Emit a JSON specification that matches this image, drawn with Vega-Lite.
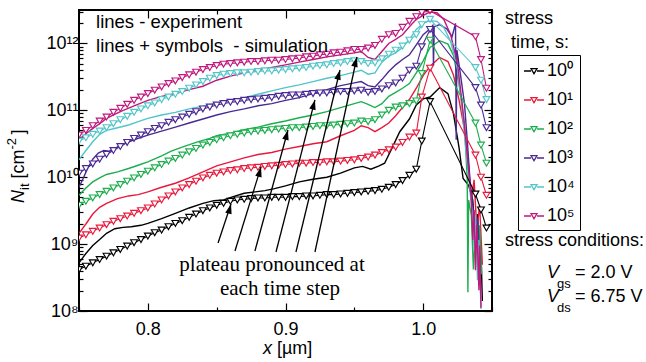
{
"$schema": "https://vega.github.io/schema/vega-lite/v6.json",
"width": 413, "height": 301,
"autosize": {"type": "none"},
"padding": {"left": 79, "top": 10, "right": 154, "bottom": 51},
"background": "white",
"datasets": {
"sim": [
{"s":"10⁰","x":0.75,"y":4.17e8},{"s":"10⁰","x":0.755,"y":4.68e8},{"s":"10⁰","x":0.76,"y":5.25e8},{"s":"10⁰","x":0.765,"y":5.89e8},{"s":"10⁰","x":0.77,"y":6.61e8},{"s":"10⁰","x":0.775,"y":7.41e8},{"s":"10⁰","x":0.78,"y":8.32e8},{"s":"10⁰","x":0.785,"y":9.33e8},{"s":"10⁰","x":0.79,"y":1.05e9},{"s":"10⁰","x":0.795,"y":1.17e9},
{"s":"10⁰","x":0.8,"y":1.32e9},{"s":"10⁰","x":0.805,"y":1.48e9},{"s":"10⁰","x":0.81,"y":1.62e9},{"s":"10⁰","x":0.815,"y":1.82e9},{"s":"10⁰","x":0.82,"y":2.04e9},{"s":"10⁰","x":0.825,"y":2.24e9},{"s":"10⁰","x":0.83,"y":2.51e9},{"s":"10⁰","x":0.835,"y":2.82e9},{"s":"10⁰","x":0.84,"y":3.16e9},{"s":"10⁰","x":0.845,"y":3.47e9},
{"s":"10⁰","x":0.85,"y":3.8e9},{"s":"10⁰","x":0.855,"y":4.07e9},{"s":"10⁰","x":0.86,"y":4.37e9},{"s":"10⁰","x":0.865,"y":4.57e9},{"s":"10⁰","x":0.87,"y":4.68e9},{"s":"10⁰","x":0.875,"y":4.79e9},{"s":"10⁰","x":0.88,"y":4.9e9},{"s":"10⁰","x":0.885,"y":4.9e9},{"s":"10⁰","x":0.89,"y":5.01e9},{"s":"10⁰","x":0.895,"y":5.01e9},
{"s":"10⁰","x":0.9,"y":5.01e9},{"s":"10⁰","x":0.905,"y":5.13e9},{"s":"10⁰","x":0.91,"y":5.13e9},{"s":"10⁰","x":0.915,"y":5.25e9},{"s":"10⁰","x":0.92,"y":5.25e9},{"s":"10⁰","x":0.925,"y":5.37e9},{"s":"10⁰","x":0.93,"y":5.5e9},{"s":"10⁰","x":0.935,"y":5.5e9},{"s":"10⁰","x":0.94,"y":5.62e9},{"s":"10⁰","x":0.945,"y":5.75e9},
{"s":"10⁰","x":0.95,"y":5.89e9},{"s":"10⁰","x":0.955,"y":6.03e9},{"s":"10⁰","x":0.96,"y":6.17e9},{"s":"10⁰","x":0.965,"y":6.31e9},{"s":"10⁰","x":0.97,"y":6.61e9},{"s":"10⁰","x":0.975,"y":7.08e9},{"s":"10⁰","x":0.98,"y":7.76e9},{"s":"10⁰","x":0.985,"y":8.91e9},{"s":"10⁰","x":0.99,"y":1.07e10},{"s":"10⁰","x":0.995,"y":1.32e10},
{"s":"10⁰","x":0.999,"y":3.47e10},{"s":"10⁰","x":1.005,"y":1.35e11},{"s":"10⁰","x":1.038,"y":5.6e9},{"s":"10⁰","x":1.042,"y":3.24e9},{"s":"10⁰","x":1.046,"y":1.74e9},

{"s":"10¹","x":0.75,"y":1.23e9},{"s":"10¹","x":0.755,"y":1.38e9},{"s":"10¹","x":0.76,"y":1.55e9},{"s":"10¹","x":0.765,"y":1.74e9},{"s":"10¹","x":0.77,"y":1.95e9},{"s":"10¹","x":0.775,"y":2.19e9},{"s":"10¹","x":0.78,"y":2.4e9},{"s":"10¹","x":0.785,"y":2.63e9},{"s":"10¹","x":0.79,"y":2.88e9},{"s":"10¹","x":0.795,"y":3.16e9},
{"s":"10¹","x":0.8,"y":3.47e9},{"s":"10¹","x":0.805,"y":3.98e9},{"s":"10¹","x":0.81,"y":4.57e9},{"s":"10¹","x":0.815,"y":5.25e9},{"s":"10¹","x":0.82,"y":6.03e9},{"s":"10¹","x":0.825,"y":6.92e9},{"s":"10¹","x":0.83,"y":7.76e9},{"s":"10¹","x":0.835,"y":8.71e9},{"s":"10¹","x":0.84,"y":9.77e9},{"s":"10¹","x":0.845,"y":1.07e10},
{"s":"10¹","x":0.85,"y":1.15e10},{"s":"10¹","x":0.855,"y":1.2e10},{"s":"10¹","x":0.86,"y":1.26e10},{"s":"10¹","x":0.865,"y":1.29e10},{"s":"10¹","x":0.87,"y":1.35e10},{"s":"10¹","x":0.875,"y":1.38e10},{"s":"10¹","x":0.88,"y":1.41e10},{"s":"10¹","x":0.885,"y":1.45e10},{"s":"10¹","x":0.89,"y":1.48e10},{"s":"10¹","x":0.895,"y":1.51e10},
{"s":"10¹","x":0.9,"y":1.55e10},{"s":"10¹","x":0.905,"y":1.58e10},{"s":"10¹","x":0.91,"y":1.62e10},{"s":"10¹","x":0.915,"y":1.62e10},{"s":"10¹","x":0.92,"y":1.66e10},{"s":"10¹","x":0.925,"y":1.66e10},{"s":"10¹","x":0.93,"y":1.7e10},{"s":"10¹","x":0.935,"y":1.7e10},{"s":"10¹","x":0.94,"y":1.74e10},{"s":"10¹","x":0.945,"y":1.78e10},
{"s":"10¹","x":0.95,"y":1.82e10},{"s":"10¹","x":0.955,"y":1.91e10},{"s":"10¹","x":0.96,"y":2.0e10},{"s":"10¹","x":0.965,"y":2.14e10},{"s":"10¹","x":0.97,"y":2.34e10},{"s":"10¹","x":0.975,"y":2.57e10},{"s":"10¹","x":0.98,"y":2.82e10},{"s":"10¹","x":0.985,"y":3.31e10},{"s":"10¹","x":0.99,"y":3.98e10},{"s":"10¹","x":0.995,"y":4.57e10},
{"s":"10¹","x":0.999,"y":1.58e11},{"s":"10¹","x":1.005,"y":4.27e11},{"s":"10¹","x":1.038,"y":2.14e10},{"s":"10¹","x":1.042,"y":1.0e10},{"s":"10¹","x":1.046,"y":5.37e9},

{"s":"10²","x":0.75,"y":3.8e9},{"s":"10²","x":0.755,"y":4.37e9},{"s":"10²","x":0.76,"y":4.9e9},{"s":"10²","x":0.765,"y":5.5e9},{"s":"10²","x":0.77,"y":6.17e9},{"s":"10²","x":0.775,"y":6.92e9},{"s":"10²","x":0.78,"y":7.76e9},{"s":"10²","x":0.785,"y":8.71e9},{"s":"10²","x":0.79,"y":9.77e9},{"s":"10²","x":0.795,"y":1.1e10},
{"s":"10²","x":0.8,"y":1.23e10},{"s":"10²","x":0.805,"y":1.38e10},{"s":"10²","x":0.81,"y":1.55e10},{"s":"10²","x":0.815,"y":1.74e10},{"s":"10²","x":0.82,"y":1.91e10},{"s":"10²","x":0.825,"y":2.14e10},{"s":"10²","x":0.83,"y":2.4e10},{"s":"10²","x":0.835,"y":2.69e10},{"s":"10²","x":0.84,"y":3.02e10},{"s":"10²","x":0.845,"y":3.31e10},
{"s":"10²","x":0.85,"y":3.63e10},{"s":"10²","x":0.855,"y":3.89e10},{"s":"10²","x":0.86,"y":4.17e10},{"s":"10²","x":0.865,"y":4.37e10},{"s":"10²","x":0.87,"y":4.57e10},{"s":"10²","x":0.875,"y":4.79e10},{"s":"10²","x":0.88,"y":4.9e10},{"s":"10²","x":0.885,"y":5.01e10},{"s":"10²","x":0.89,"y":5.13e10},{"s":"10²","x":0.895,"y":5.25e10},
{"s":"10²","x":0.9,"y":5.37e10},{"s":"10²","x":0.905,"y":5.5e10},{"s":"10²","x":0.91,"y":5.5e10},{"s":"10²","x":0.915,"y":5.62e10},{"s":"10²","x":0.92,"y":5.75e10},{"s":"10²","x":0.925,"y":5.89e10},{"s":"10²","x":0.93,"y":5.89e10},{"s":"10²","x":0.935,"y":6.03e10},{"s":"10²","x":0.94,"y":6.17e10},{"s":"10²","x":0.945,"y":6.31e10},
{"s":"10²","x":0.95,"y":6.46e10},{"s":"10²","x":0.955,"y":6.92e10},{"s":"10²","x":0.96,"y":6.76e10},{"s":"10²","x":0.965,"y":7.24e10},{"s":"10²","x":0.97,"y":8.51e10},{"s":"10²","x":0.975,"y":1.0e11},{"s":"10²","x":0.98,"y":1.12e11},{"s":"10²","x":0.985,"y":1.17e11},{"s":"10²","x":0.99,"y":1.26e11},{"s":"10²","x":0.995,"y":1.38e11},
{"s":"10²","x":0.999,"y":3.55e11},{"s":"10²","x":1.005,"y":1.12e12},{"s":"10²","x":1.038,"y":6.46e10},{"s":"10²","x":1.042,"y":3.02e10},{"s":"10²","x":1.046,"y":1.62e10},

{"s":"10³","x":0.75,"y":1.15e10},{"s":"10³","x":0.755,"y":1.35e10},{"s":"10³","x":0.76,"y":1.58e10},{"s":"10³","x":0.765,"y":1.86e10},{"s":"10³","x":0.77,"y":2.19e10},{"s":"10³","x":0.775,"y":2.51e10},{"s":"10³","x":0.78,"y":2.88e10},{"s":"10³","x":0.785,"y":3.31e10},{"s":"10³","x":0.79,"y":3.8e10},{"s":"10³","x":0.795,"y":4.27e10},
{"s":"10³","x":0.8,"y":4.79e10},{"s":"10³","x":0.805,"y":5.37e10},{"s":"10³","x":0.81,"y":5.89e10},{"s":"10³","x":0.815,"y":6.61e10},{"s":"10³","x":0.82,"y":7.24e10},{"s":"10³","x":0.825,"y":7.94e10},{"s":"10³","x":0.83,"y":8.71e10},{"s":"10³","x":0.835,"y":9.55e10},{"s":"10³","x":0.84,"y":1.05e11},{"s":"10³","x":0.845,"y":1.12e11},
{"s":"10³","x":0.85,"y":1.2e11},{"s":"10³","x":0.855,"y":1.26e11},{"s":"10³","x":0.86,"y":1.32e11},{"s":"10³","x":0.865,"y":1.35e11},{"s":"10³","x":0.87,"y":1.41e11},{"s":"10³","x":0.875,"y":1.45e11},{"s":"10³","x":0.88,"y":1.48e11},{"s":"10³","x":0.885,"y":1.51e11},{"s":"10³","x":0.89,"y":1.55e11},{"s":"10³","x":0.895,"y":1.62e11},
{"s":"10³","x":0.9,"y":1.66e11},{"s":"10³","x":0.905,"y":1.7e11},{"s":"10³","x":0.91,"y":1.7e11},{"s":"10³","x":0.915,"y":1.74e11},{"s":"10³","x":0.92,"y":1.78e11},{"s":"10³","x":0.925,"y":1.82e11},{"s":"10³","x":0.93,"y":1.82e11},{"s":"10³","x":0.935,"y":1.86e11},{"s":"10³","x":0.94,"y":1.91e11},{"s":"10³","x":0.945,"y":1.91e11},
{"s":"10³","x":0.95,"y":1.95e11},{"s":"10³","x":0.955,"y":2.0e11},{"s":"10³","x":0.96,"y":1.86e11},{"s":"10³","x":0.965,"y":1.91e11},{"s":"10³","x":0.97,"y":2.09e11},{"s":"10³","x":0.975,"y":2.34e11},{"s":"10³","x":0.98,"y":2.57e11},{"s":"10³","x":0.985,"y":3.02e11},{"s":"10³","x":0.99,"y":3.98e11},{"s":"10³","x":0.995,"y":4.57e11},
{"s":"10³","x":0.999,"y":8.91e11},{"s":"10³","x":1.005,"y":1.62e12},{"s":"10³","x":1.038,"y":2.19e11},{"s":"10³","x":1.042,"y":1.2e11},{"s":"10³","x":1.046,"y":5.5e10},

{"s":"10⁴","x":0.75,"y":3.47e10},{"s":"10⁴","x":0.755,"y":3.89e10},{"s":"10⁴","x":0.76,"y":4.37e10},{"s":"10⁴","x":0.765,"y":4.9e10},{"s":"10⁴","x":0.77,"y":5.5e10},{"s":"10⁴","x":0.775,"y":6.31e10},{"s":"10⁴","x":0.78,"y":7.24e10},{"s":"10⁴","x":0.785,"y":8.13e10},{"s":"10⁴","x":0.79,"y":9.33e10},{"s":"10⁴","x":0.795,"y":1.05e11},
{"s":"10⁴","x":0.8,"y":1.17e11},{"s":"10⁴","x":0.805,"y":1.29e11},{"s":"10⁴","x":0.81,"y":1.45e11},{"s":"10⁴","x":0.815,"y":1.58e11},{"s":"10⁴","x":0.82,"y":1.74e11},{"s":"10⁴","x":0.825,"y":1.91e11},{"s":"10⁴","x":0.83,"y":2.14e11},{"s":"10⁴","x":0.835,"y":2.4e11},{"s":"10⁴","x":0.84,"y":2.69e11},{"s":"10⁴","x":0.845,"y":3.02e11},
{"s":"10⁴","x":0.85,"y":3.31e11},{"s":"10⁴","x":0.855,"y":3.47e11},{"s":"10⁴","x":0.86,"y":3.55e11},{"s":"10⁴","x":0.865,"y":3.63e11},{"s":"10⁴","x":0.87,"y":3.63e11},{"s":"10⁴","x":0.875,"y":3.72e11},{"s":"10⁴","x":0.88,"y":3.8e11},{"s":"10⁴","x":0.885,"y":3.89e11},{"s":"10⁴","x":0.89,"y":3.89e11},{"s":"10⁴","x":0.895,"y":3.98e11},
{"s":"10⁴","x":0.9,"y":4.07e11},{"s":"10⁴","x":0.905,"y":4.17e11},{"s":"10⁴","x":0.91,"y":4.27e11},{"s":"10⁴","x":0.915,"y":4.37e11},{"s":"10⁴","x":0.92,"y":4.57e11},{"s":"10⁴","x":0.925,"y":4.68e11},{"s":"10⁴","x":0.93,"y":4.79e11},{"s":"10⁴","x":0.935,"y":5.01e11},{"s":"10⁴","x":0.94,"y":5.13e11},{"s":"10⁴","x":0.945,"y":5.37e11},
{"s":"10⁴","x":0.95,"y":5.5e11},{"s":"10⁴","x":0.955,"y":5.37e11},{"s":"10⁴","x":0.96,"y":5.01e11},{"s":"10⁴","x":0.965,"y":5.13e11},{"s":"10⁴","x":0.97,"y":5.89e11},{"s":"10⁴","x":0.975,"y":6.92e11},{"s":"10⁴","x":0.98,"y":7.94e11},{"s":"10⁴","x":0.985,"y":9.12e11},{"s":"10⁴","x":0.99,"y":1.12e12},{"s":"10⁴","x":0.995,"y":1.35e12},
{"s":"10⁴","x":0.999,"y":1.91e12},{"s":"10⁴","x":1.005,"y":2.29e12},{"s":"10⁴","x":1.038,"y":4.37e11},{"s":"10⁴","x":1.042,"y":2.82e11},{"s":"10⁴","x":1.046,"y":1.45e11},

{"s":"10⁵","x":0.75,"y":4.27e10},{"s":"10⁵","x":0.755,"y":5.01e10},{"s":"10⁵","x":0.76,"y":5.89e10},{"s":"10⁵","x":0.765,"y":6.92e10},{"s":"10⁵","x":0.77,"y":7.94e10},{"s":"10⁵","x":0.775,"y":9.33e10},{"s":"10⁵","x":0.78,"y":1.07e11},{"s":"10⁵","x":0.785,"y":1.23e11},{"s":"10⁵","x":0.79,"y":1.41e11},{"s":"10⁵","x":0.795,"y":1.58e11},
{"s":"10⁵","x":0.8,"y":1.78e11},{"s":"10⁵","x":0.805,"y":2.0e11},{"s":"10⁵","x":0.81,"y":2.24e11},{"s":"10⁵","x":0.815,"y":2.51e11},{"s":"10⁵","x":0.82,"y":2.75e11},{"s":"10⁵","x":0.825,"y":3.09e11},{"s":"10⁵","x":0.83,"y":3.39e11},{"s":"10⁵","x":0.835,"y":3.72e11},{"s":"10⁵","x":0.84,"y":4.07e11},{"s":"10⁵","x":0.845,"y":4.37e11},
{"s":"10⁵","x":0.85,"y":4.68e11},{"s":"10⁵","x":0.855,"y":4.9e11},{"s":"10⁵","x":0.86,"y":5.01e11},{"s":"10⁵","x":0.865,"y":5.13e11},{"s":"10⁵","x":0.87,"y":5.25e11},{"s":"10⁵","x":0.875,"y":5.37e11},{"s":"10⁵","x":0.88,"y":5.37e11},{"s":"10⁵","x":0.885,"y":5.5e11},{"s":"10⁵","x":0.89,"y":5.62e11},{"s":"10⁵","x":0.895,"y":5.62e11},
{"s":"10⁵","x":0.9,"y":5.75e11},{"s":"10⁵","x":0.905,"y":5.89e11},{"s":"10⁵","x":0.91,"y":6.03e11},{"s":"10⁵","x":0.915,"y":6.31e11},{"s":"10⁵","x":0.92,"y":6.46e11},{"s":"10⁵","x":0.925,"y":6.76e11},{"s":"10⁵","x":0.93,"y":6.92e11},{"s":"10⁵","x":0.935,"y":7.24e11},{"s":"10⁵","x":0.94,"y":7.41e11},{"s":"10⁵","x":0.945,"y":7.76e11},
{"s":"10⁵","x":0.95,"y":8.13e11},{"s":"10⁵","x":0.955,"y":8.13e11},{"s":"10⁵","x":0.96,"y":8.51e11},{"s":"10⁵","x":0.965,"y":9.33e11},{"s":"10⁵","x":0.97,"y":1.15e12},{"s":"10⁵","x":0.975,"y":1.35e12},{"s":"10⁵","x":0.98,"y":1.41e12},{"s":"10⁵","x":0.985,"y":1.74e12},{"s":"10⁵","x":0.99,"y":2.14e12},{"s":"10⁵","x":0.995,"y":2.51e12},
{"s":"10⁵","x":0.999,"y":2.88e12},{"s":"10⁵","x":1.005,"y":3.09e12},{"s":"10⁵","x":1.038,"y":1.26e12},{"s":"10⁵","x":1.042,"y":5.75e11},{"s":"10⁵","x":1.046,"y":2.14e11}
],
"exp": [
{"s":"10⁰","x":0.75,"y":5.25e8},{"s":"10⁰","x":0.755,"y":7.24e8},{"s":"10⁰","x":0.76,"y":9.55e8},{"s":"10⁰","x":0.765,"y":1.17e9},{"s":"10⁰","x":0.77,"y":1.45e9},{"s":"10⁰","x":0.776,"y":1.7e9},{"s":"10⁰","x":0.782,"y":1.78e9},{"s":"10⁰","x":0.788,"y":1.82e9},{"s":"10⁰","x":0.795,"y":1.91e9},{"s":"10⁰","x":0.8,"y":2.04e9},
{"s":"10⁰","x":0.81,"y":2.4e9},{"s":"10⁰","x":0.82,"y":2.88e9},{"s":"10⁰","x":0.83,"y":3.47e9},{"s":"10⁰","x":0.84,"y":4.07e9},{"s":"10⁰","x":0.848,"y":4.47e9},{"s":"10⁰","x":0.855,"y":4.57e9},{"s":"10⁰","x":0.862,"y":5.13e9},{"s":"10⁰","x":0.87,"y":5.75e9},{"s":"10⁰","x":0.878,"y":6.03e9},{"s":"10⁰","x":0.885,"y":6.31e9},
{"s":"10⁰","x":0.892,"y":6.76e9},{"s":"10⁰","x":0.9,"y":7.41e9},{"s":"10⁰","x":0.91,"y":8.51e9},{"s":"10⁰","x":0.92,"y":9.33e9},{"s":"10⁰","x":0.93,"y":1.0e10},{"s":"10⁰","x":0.94,"y":1.15e10},{"s":"10⁰","x":0.95,"y":1.38e10},{"s":"10⁰","x":0.956,"y":1.45e10},{"s":"10⁰","x":0.962,"y":1.32e10},{"s":"10⁰","x":0.968,"y":1.48e10},
{"s":"10⁰","x":0.972,"y":1.62e10},{"s":"10⁰","x":0.977,"y":2.63e10},{"s":"10⁰","x":0.983,"y":4.79e10},{"s":"10⁰","x":0.99,"y":7.41e10},{"s":"10⁰","x":0.995,"y":1.2e11},{"s":"10⁰","x":1.0,"y":1.48e11},{"s":"10⁰","x":1.005,"y":1.58e11},{"s":"10⁰","x":1.012,"y":2.19e11},{"s":"10⁰","x":1.018,"y":1.78e11},{"s":"10⁰","x":1.022,"y":8.91e10},
{"s":"10⁰","x":1.026,"y":2.82e10},{"s":"10⁰","x":1.029,"y":9.55e9},{"s":"10⁰","x":1.033,"y":7.59e9},{"s":"10⁰","x":1.036,"y":4.57e9},{"s":"10⁰","x":1.038,"y":1.26e9},{"s":"10⁰","x":1.0395,"y":2.82e9},{"s":"10⁰","x":1.041,"y":2.51e8},{"s":"10⁰","x":1.042,"y":7.94e8},{"s":"10⁰","x":1.043,"y":1.41e8},

{"s":"10¹","x":0.75,"y":1.45e9},{"s":"10¹","x":0.755,"y":2.0e9},{"s":"10¹","x":0.76,"y":2.82e9},{"s":"10¹","x":0.765,"y":3.55e9},{"s":"10¹","x":0.77,"y":4.07e9},{"s":"10¹","x":0.778,"y":4.79e9},{"s":"10¹","x":0.786,"y":5.25e9},{"s":"10¹","x":0.793,"y":5.5e9},{"s":"10¹","x":0.8,"y":6.03e9},{"s":"10¹","x":0.81,"y":7.08e9},
{"s":"10¹","x":0.82,"y":8.13e9},{"s":"10¹","x":0.83,"y":9.77e9},{"s":"10¹","x":0.84,"y":1.2e10},{"s":"10¹","x":0.85,"y":1.48e10},{"s":"10¹","x":0.86,"y":1.7e10},{"s":"10¹","x":0.87,"y":1.95e10},{"s":"10¹","x":0.88,"y":2.19e10},{"s":"10¹","x":0.89,"y":2.34e10},{"s":"10¹","x":0.9,"y":2.63e10},{"s":"10¹","x":0.91,"y":2.88e10},
{"s":"10¹","x":0.92,"y":3.16e10},{"s":"10¹","x":0.93,"y":3.39e10},{"s":"10¹","x":0.94,"y":4.17e10},{"s":"10¹","x":0.95,"y":5.01e10},{"s":"10¹","x":0.955,"y":5.89e10},{"s":"10¹","x":0.96,"y":5.5e10},{"s":"10¹","x":0.965,"y":4.79e10},{"s":"10¹","x":0.97,"y":5.5e10},{"s":"10¹","x":0.975,"y":6.46e10},{"s":"10¹","x":0.98,"y":8.32e10},
{"s":"10¹","x":0.985,"y":1.1e11},{"s":"10¹","x":0.99,"y":1.45e11},{"s":"10¹","x":0.995,"y":2.14e11},{"s":"10¹","x":1.0,"y":3.31e11},{"s":"10¹","x":1.005,"y":4.57e11},{"s":"10¹","x":1.012,"y":6.17e11},{"s":"10¹","x":1.018,"y":5.37e11},{"s":"10¹","x":1.022,"y":3.39e11},{"s":"10¹","x":1.026,"y":1.45e11},{"s":"10¹","x":1.03,"y":5.13e10},
{"s":"10¹","x":1.033,"y":1.51e10},{"s":"10¹","x":1.035,"y":4.57e9},{"s":"10¹","x":1.037,"y":9.12e9},{"s":"10¹","x":1.039,"y":1.62e9},{"s":"10¹","x":1.041,"y":3.8e9},{"s":"10¹","x":1.043,"y":4.9e8},

{"s":"10²","x":0.75,"y":5.37e9},{"s":"10²","x":0.755,"y":6.92e9},{"s":"10²","x":0.76,"y":8.51e9},{"s":"10²","x":0.765,"y":9.77e9},{"s":"10²","x":0.77,"y":1.1e10},{"s":"10²","x":0.778,"y":1.2e10},{"s":"10²","x":0.786,"y":1.35e10},{"s":"10²","x":0.793,"y":1.51e10},{"s":"10²","x":0.8,"y":1.7e10},{"s":"10²","x":0.81,"y":2.09e10},
{"s":"10²","x":0.817,"y":2.45e10},{"s":"10²","x":0.825,"y":2.82e10},{"s":"10²","x":0.835,"y":3.31e10},{"s":"10²","x":0.845,"y":3.8e10},{"s":"10²","x":0.85,"y":4.17e10},{"s":"10²","x":0.86,"y":4.57e10},{"s":"10²","x":0.87,"y":5.13e10},{"s":"10²","x":0.88,"y":5.62e10},{"s":"10²","x":0.89,"y":6.31e10},{"s":"10²","x":0.9,"y":6.92e10},
{"s":"10²","x":0.91,"y":7.76e10},{"s":"10²","x":0.92,"y":8.51e10},{"s":"10²","x":0.93,"y":9.55e10},{"s":"10²","x":0.94,"y":1.1e11},{"s":"10²","x":0.95,"y":1.26e11},{"s":"10²","x":0.955,"y":1.35e11},{"s":"10²","x":0.96,"y":1.23e11},{"s":"10²","x":0.965,"y":1.1e11},{"s":"10²","x":0.97,"y":1.26e11},{"s":"10²","x":0.975,"y":1.62e11},
{"s":"10²","x":0.98,"y":1.86e11},{"s":"10²","x":0.985,"y":2.14e11},{"s":"10²","x":0.99,"y":2.51e11},{"s":"10²","x":0.995,"y":3.63e11},{"s":"10²","x":1.0,"y":5.5e11},{"s":"10²","x":1.005,"y":8.71e11},{"s":"10²","x":1.012,"y":1.1e12},{"s":"10²","x":1.018,"y":9.77e11},{"s":"10²","x":1.022,"y":6.61e11},{"s":"10²","x":1.026,"y":2.51e11},
{"s":"10²","x":1.03,"y":6.31e10},{"s":"10²","x":1.032,"y":9.55e9},{"s":"10²","x":1.0325,"y":1.91e8},{"s":"10²","x":1.033,"y":4.57e9},{"s":"10²","x":1.035,"y":2.69e9},{"s":"10²","x":1.0365,"y":4.17e8},{"s":"10²","x":1.038,"y":1.58e9},{"s":"10²","x":1.0395,"y":7.08e8},{"s":"10²","x":1.041,"y":1.91e9},{"s":"10²","x":1.0425,"y":3.55e8},

{"s":"10³","x":0.75,"y":7.08e9},{"s":"10³","x":0.753,"y":9.55e9},{"s":"10³","x":0.756,"y":1.32e10},{"s":"10³","x":0.76,"y":1.86e10},{"s":"10³","x":0.764,"y":2.29e10},{"s":"10³","x":0.768,"y":2.51e10},{"s":"10³","x":0.772,"y":2.45e10},{"s":"10³","x":0.776,"y":2.69e10},{"s":"10³","x":0.78,"y":3.02e10},{"s":"10³","x":0.79,"y":3.63e10},
{"s":"10³","x":0.8,"y":4.27e10},{"s":"10³","x":0.81,"y":4.9e10},{"s":"10³","x":0.82,"y":5.62e10},{"s":"10³","x":0.83,"y":6.46e10},{"s":"10³","x":0.84,"y":7.41e10},{"s":"10³","x":0.85,"y":8.51e10},{"s":"10³","x":0.86,"y":9.55e10},{"s":"10³","x":0.87,"y":1.05e11},{"s":"10³","x":0.88,"y":1.17e11},{"s":"10³","x":0.89,"y":1.26e11},
{"s":"10³","x":0.9,"y":1.41e11},{"s":"10³","x":0.91,"y":1.55e11},{"s":"10³","x":0.92,"y":1.78e11},{"s":"10³","x":0.93,"y":2.04e11},{"s":"10³","x":0.94,"y":2.34e11},{"s":"10³","x":0.95,"y":2.57e11},{"s":"10³","x":0.955,"y":2.69e11},{"s":"10³","x":0.96,"y":2.34e11},{"s":"10³","x":0.965,"y":2.24e11},{"s":"10³","x":0.97,"y":2.88e11},
{"s":"10³","x":0.975,"y":3.8e11},{"s":"10³","x":0.98,"y":4.79e11},{"s":"10³","x":0.985,"y":5.75e11},{"s":"10³","x":0.99,"y":6.76e11},{"s":"10³","x":0.995,"y":9.55e11},{"s":"10³","x":1.0,"y":1.35e12},{"s":"10³","x":1.005,"y":1.66e12},{"s":"10³","x":1.007,"y":1.86e12},{"s":"10³","x":1.0075,"y":4.68e11},{"s":"10³","x":1.008,"y":1.78e12},
{"s":"10³","x":1.012,"y":1.91e12},{"s":"10³","x":1.017,"y":1.66e12},{"s":"10³","x":1.021,"y":1.26e12},{"s":"10³","x":1.0235,"y":2.0e12},{"s":"10³","x":1.024,"y":3.63e10},{"s":"10³","x":1.0245,"y":7.94e11},{"s":"10³","x":1.027,"y":3.55e11},{"s":"10³","x":1.03,"y":1.26e11},{"s":"10³","x":1.032,"y":3.63e10},{"s":"10³","x":1.034,"y":9.12e9},
{"s":"10³","x":1.036,"y":3.98e9},{"s":"10³","x":1.038,"y":1.26e9},{"s":"10³","x":1.0395,"y":2.51e9},{"s":"10³","x":1.041,"y":6.31e8},

{"s":"10⁴","x":0.75,"y":1.82e10},{"s":"10⁴","x":0.755,"y":2.51e10},{"s":"10⁴","x":0.76,"y":3.39e10},{"s":"10⁴","x":0.765,"y":4.37e10},{"s":"10⁴","x":0.77,"y":5.01e10},{"s":"10⁴","x":0.778,"y":5.5e10},{"s":"10⁴","x":0.786,"y":6.03e10},{"s":"10⁴","x":0.793,"y":6.76e10},{"s":"10⁴","x":0.8,"y":7.59e10},{"s":"10⁴","x":0.81,"y":8.51e10},
{"s":"10⁴","x":0.82,"y":9.33e10},{"s":"10⁴","x":0.83,"y":1.05e11},{"s":"10⁴","x":0.84,"y":1.15e11},{"s":"10⁴","x":0.85,"y":1.29e11},{"s":"10⁴","x":0.86,"y":1.41e11},{"s":"10⁴","x":0.87,"y":1.55e11},{"s":"10⁴","x":0.88,"y":1.74e11},{"s":"10⁴","x":0.89,"y":1.95e11},{"s":"10⁴","x":0.9,"y":2.19e11},{"s":"10⁴","x":0.91,"y":2.4e11},
{"s":"10⁴","x":0.92,"y":2.69e11},{"s":"10⁴","x":0.93,"y":3.02e11},{"s":"10⁴","x":0.94,"y":3.31e11},{"s":"10⁴","x":0.95,"y":3.72e11},{"s":"10⁴","x":0.955,"y":3.98e11},{"s":"10⁴","x":0.96,"y":3.47e11},{"s":"10⁴","x":0.965,"y":3.63e11},{"s":"10⁴","x":0.97,"y":5.25e11},{"s":"10⁴","x":0.975,"y":6.46e11},{"s":"10⁴","x":0.98,"y":7.24e11},
{"s":"10⁴","x":0.985,"y":8.71e11},{"s":"10⁴","x":0.99,"y":1.15e12},{"s":"10⁴","x":0.995,"y":1.62e12},{"s":"10⁴","x":1.0,"y":2.0e12},{"s":"10⁴","x":1.005,"y":2.19e12},{"s":"10⁴","x":1.01,"y":2.14e12},{"s":"10⁴","x":1.015,"y":1.74e12},{"s":"10⁴","x":1.02,"y":1.07e12},{"s":"10⁴","x":1.025,"y":4.07e11},{"s":"10⁴","x":1.028,"y":1.23e11},
{"s":"10⁴","x":1.031,"y":2.57e10},{"s":"10⁴","x":1.034,"y":6.46e9},{"s":"10⁴","x":1.036,"y":2.29e9},{"s":"10⁴","x":1.037,"y":8.13e8},{"s":"10⁴","x":1.038,"y":2.69e9},{"s":"10⁴","x":1.0395,"y":2.88e8},{"s":"10⁴","x":1.0405,"y":1.15e9},{"s":"10⁴","x":1.042,"y":1.07e8},

{"s":"10⁵","x":0.75,"y":3.63e10},{"s":"10⁵","x":0.755,"y":4.47e10},{"s":"10⁵","x":0.76,"y":5.37e10},{"s":"10⁵","x":0.765,"y":6.31e10},{"s":"10⁵","x":0.77,"y":7.59e10},{"s":"10⁵","x":0.78,"y":9.55e10},{"s":"10⁵","x":0.79,"y":1.17e11},{"s":"10⁵","x":0.8,"y":1.41e11},{"s":"10⁵","x":0.81,"y":1.62e11},{"s":"10⁵","x":0.82,"y":1.78e11},
{"s":"10⁵","x":0.83,"y":2.04e11},{"s":"10⁵","x":0.84,"y":2.29e11},{"s":"10⁵","x":0.85,"y":2.82e11},{"s":"10⁵","x":0.86,"y":3.24e11},{"s":"10⁵","x":0.87,"y":3.63e11},{"s":"10⁵","x":0.88,"y":3.98e11},{"s":"10⁵","x":0.89,"y":4.37e11},{"s":"10⁵","x":0.9,"y":4.79e11},{"s":"10⁵","x":0.91,"y":5.25e11},{"s":"10⁵","x":0.92,"y":5.75e11},
{"s":"10⁵","x":0.93,"y":6.31e11},{"s":"10⁵","x":0.94,"y":6.76e11},{"s":"10⁵","x":0.95,"y":7.24e11},{"s":"10⁵","x":0.955,"y":7.59e11},{"s":"10⁵","x":0.96,"y":6.17e11},{"s":"10⁵","x":0.965,"y":5.75e11},{"s":"10⁵","x":0.97,"y":7.59e11},{"s":"10⁵","x":0.975,"y":1.0e12},{"s":"10⁵","x":0.98,"y":1.15e12},{"s":"10⁵","x":0.985,"y":1.35e12},
{"s":"10⁵","x":0.99,"y":1.78e12},{"s":"10⁵","x":0.995,"y":2.29e12},{"s":"10⁵","x":1.0,"y":2.63e12},{"s":"10⁵","x":1.005,"y":2.95e12},{"s":"10⁵","x":1.01,"y":2.88e12},{"s":"10⁵","x":1.015,"y":2.29e12},{"s":"10⁵","x":1.02,"y":1.35e12},{"s":"10⁵","x":1.025,"y":4.9e11},{"s":"10⁵","x":1.028,"y":1.45e11},{"s":"10⁵","x":1.031,"y":3.63e10},
{"s":"10⁵","x":1.033,"y":1.29e10},{"s":"10⁵","x":1.035,"y":4.57e9},{"s":"10⁵","x":1.036,"y":1.15e9},{"s":"10⁵","x":1.037,"y":3.24e9},{"s":"10⁵","x":1.038,"y":4.07e8},{"s":"10⁵","x":1.039,"y":1.91e9},{"s":"10⁵","x":1.0405,"y":2.04e8},{"s":"10⁵","x":1.041,"y":9.55e8},{"s":"10⁵","x":1.042,"y":1.12e8}
],
"arrows": [
{"x":0.851,"y":1.04e9,"x2":0.8604,"y2":3.98e9},
{"x":0.8633,"y":7.89e8,"x2":0.8822,"y2":1.42e10},
{"x":0.8778,"y":7.89e8,"x2":0.9018,"y2":5.08e10},
{"x":0.8931,"y":7.62e8,"x2":0.9214,"y2":1.43e11},
{"x":0.9076,"y":7.62e8,"x2":0.9396,"y2":4.01e11},
{"x":0.9214,"y":7.62e8,"x2":0.9519,"y2":6.27e11}
],
"tPlot": [
{"x":0.7624,"y":2.09e12,"t":"lines - experiment"},
{"x":0.7624,"y":9.16e11,"t":"lines + symbols\u00a0 - simulation"}
],
"tSerif": [
{"x":0.8902,"y":4.87e8,"t":"plateau pronounced at"},
{"x":0.896,"y":2.13e8,"t":"each time step"}
],
"tRight": [
{"x":1.0594,"y":2.32e12,"t":"stress"},
{"x":1.0638,"y":1.02e12,"t":"time, s:"},
{"x":1.0594,"y":1.11e9,"t":"stress conditions:"},
{"x":1.1103,"y":3.7e8,"t":"= 2.0 V"},
{"x":1.1103,"y":1.62e8,"t":"= 6.75 V"},
{"x":0.8938,"y":2.7e7,"t":"[µm]"}
],
"tItalic": [
{"x":1.09,"y":3.7e8,"t":"V"},
{"x":1.09,"y":1.62e8,"t":"V"},
{"x":0.8837,"y":2.7e7,"t":"x"}
],
"tSub": [
{"x":1.0972,"y":2.53e8,"t":"gs"},
{"x":1.0972,"y":1.11e8,"t":"ds"}
],
"yTitleItalic": [{"x":0.70642,"y":4.12e9,"t":"N"}],
"yTitleSmall": [
{"x":0.71078,"y":6.44e9,"t":"it"},
{"x":0.70133,"y":2.6e10,"t":"-2"}
],
"yTitleMain": [
{"x":0.70642,"y":9.57e9,"t":"[cm"},
{"x":0.70642,"y":4.35e10,"t":"]"}
]
},
"encoding": {
"x": {"field": "x", "type": "quantitative", "scale": {"domain": [0.75, 1.05], "nice": false, "zero": false}, "axis": null},
"y": {"field": "y", "type": "quantitative", "scale": {"type": "log", "domain": [1e8, 3.1623e12], "nice": false}, "axis": null}
},
"layer": [
{
"data": {"name": "exp"},
"mark": {"type": "line", "strokeWidth": 1.4, "clip": true},
"encoding": {
"x": {"field": "x", "type": "quantitative", "scale": {"domain": [0.75, 1.05], "nice": false, "zero": false},
 "axis": {"orient": "bottom", "title": null, "values": [0.75, 0.8, 0.85, 0.9, 0.95, 1.0, 1.05],
  "labelExpr": "abs(datum.value*10 - round(datum.value*10)) < 0.001 ? format(datum.value, '.1f') : ''",
  "tickSize": {"condition": {"test": "abs(datum.value*10 - round(datum.value*10)) < 0.001", "value": -8}, "value": -4},
  "labelPadding": 17}},
"y": {"field": "y", "type": "quantitative", "scale": {"type": "log", "domain": [1e8, 3.1623e12], "nice": false},
 "axis": {"orient": "left", "title": null,
  "values": [1e8,2e8,3e8,4e8,5e8,6e8,7e8,8e8,9e8,1e9,2e9,3e9,4e9,5e9,6e9,7e9,8e9,9e9,1e10,2e10,3e10,4e10,5e10,6e10,7e10,8e10,9e10,1e11,2e11,3e11,4e11,5e11,6e11,7e11,8e11,9e11,1e12,2e12,3e12],
  "labelExpr": "abs(datum.value/1e8-1)<1e-6 ? '10⁸' : abs(datum.value/1e9-1)<1e-6 ? '10⁹' : abs(datum.value/1e10-1)<1e-6 ? '10¹⁰' : abs(datum.value/1e11-1)<1e-6 ? '10¹¹' : abs(datum.value/1e12-1)<1e-6 ? '10¹²' : ''",
  "tickSize": {"condition": {"test": "abs(log(datum.value)/LN10 - round(log(datum.value)/LN10)) < 0.001", "value": -8}, "value": -4},
  "labelPadding": 9}},
"stroke": {"field": "s", "type": "nominal",
 "scale": {"domain": ["10⁰","10¹","10²","10³","10⁴","10⁵"], "range": ["#000000","#e8193c","#1cae4d","#4a2a94","#53c5c8","#c0187f"]},
 "legend": {"orient": "none", "legendX": 439, "legendY": 45, "title": null,
  "symbolType": "M-1,0H-0.3M0.3,0H1M-0.3,-0.24H0.3L0,0.28Z", "symbolSize": 400, "symbolStrokeWidth": 1.3,
  "symbolFillColor": "white", "symbolOpacity": 1,
  "labelFontSize": 18, "labelFont": "Liberation Sans", "labelColor": "#000000", "labelOffset": 2,
  "rowPadding": 9, "padding": 5, "strokeColor": "#000000"}}
}
},
{
"data": {"name": "sim"},
"mark": {"type": "line", "strokeWidth": 1.1, "clip": true},
"encoding": {
"x": {"field": "x", "type": "quantitative", "scale": {"domain": [0.75, 1.05], "nice": false, "zero": false},
 "axis": {"orient": "top", "title": null, "labels": false, "values": [0.75, 0.8, 0.85, 0.9, 0.95, 1.0, 1.05],
  "tickSize": {"condition": {"test": "abs(datum.value*10 - round(datum.value*10)) < 0.001", "value": -8}, "value": -4}}},
"y": {"field": "y", "type": "quantitative", "scale": {"type": "log", "domain": [1e8, 3.1623e12], "nice": false},
 "axis": {"orient": "right", "title": null, "labels": false,
  "values": [1e8,2e8,3e8,4e8,5e8,6e8,7e8,8e8,9e8,1e9,2e9,3e9,4e9,5e9,6e9,7e9,8e9,9e9,1e10,2e10,3e10,4e10,5e10,6e10,7e10,8e10,9e10,1e11,2e11,3e11,4e11,5e11,6e11,7e11,8e11,9e11,1e12,2e12,3e12],
  "tickSize": {"condition": {"test": "abs(log(datum.value)/LN10 - round(log(datum.value)/LN10)) < 0.001", "value": -8}, "value": -4}}},
"stroke": {"field": "s", "type": "nominal"}
}
},
{
"data": {"name": "sim"},
"mark": {"type": "point", "shape": "triangle-down", "filled": true, "fill": "white", "size": 46, "strokeWidth": 1.15, "opacity": 1, "clip": true},
"encoding": {"stroke": {"field": "s", "type": "nominal"}}
},
{
"data": {"name": "arrows"},
"mark": {"type": "rule", "strokeWidth": 1.3, "color": "#000000"},
"encoding": {"x2": {"field": "x2"}, "y2": {"field": "y2"}}
},
{
"data": {"name": "arrows"},
"mark": {"type": "point", "shape": "M0,0L0.6,1.8L-0.6,1.8Z", "filled": true, "color": "#000000", "size": 120, "angle": 15, "opacity": 1},
"encoding": {
"x": {"field": "x2", "type": "quantitative", "scale": {"domain": [0.75, 1.05], "nice": false, "zero": false}, "axis": null},
"y": {"field": "y2", "type": "quantitative", "scale": {"type": "log", "domain": [1e8, 3.1623e12], "nice": false}, "axis": null}
}
},
{
"data": {"name": "tPlot"},
"mark": {"type": "text", "align": "left", "baseline": "middle", "font": "Liberation Sans", "fontSize": 18.5, "color": "#000000"},
"encoding": {"text": {"field": "t"}}
},
{
"data": {"name": "tSerif"},
"mark": {"type": "text", "align": "center", "baseline": "middle", "font": "Liberation Serif", "fontSize": 21, "color": "#000000"},
"encoding": {"text": {"field": "t"}}
},
{
"data": {"name": "tRight"},
"mark": {"type": "text", "align": "left", "baseline": "middle", "font": "Liberation Sans", "fontSize": 18, "color": "#000000"},
"encoding": {"text": {"field": "t"}}
},
{
"data": {"name": "tItalic"},
"mark": {"type": "text", "align": "left", "baseline": "middle", "font": "Liberation Sans", "fontSize": 18, "fontStyle": "italic", "color": "#000000"},
"encoding": {"text": {"field": "t"}}
},
{
"data": {"name": "tSub"},
"mark": {"type": "text", "align": "left", "baseline": "middle", "font": "Liberation Sans", "fontSize": 13, "color": "#000000"},
"encoding": {"text": {"field": "t"}}
},
{
"data": {"name": "yTitleItalic"},
"mark": {"type": "text", "align": "left", "baseline": "middle", "angle": 270, "font": "Liberation Sans", "fontSize": 18, "fontStyle": "italic", "color": "#000000"},
"encoding": {"text": {"field": "t"}}
},
{
"data": {"name": "yTitleSmall"},
"mark": {"type": "text", "align": "left", "baseline": "middle", "angle": 270, "font": "Liberation Sans", "fontSize": 13, "color": "#000000"},
"encoding": {"text": {"field": "t"}}
},
{
"data": {"name": "yTitleMain"},
"mark": {"type": "text", "align": "left", "baseline": "middle", "angle": 270, "font": "Liberation Sans", "fontSize": 18, "color": "#000000"},
"encoding": {"text": {"field": "t"}}
}
],
"resolve": {"axis": {"x": "independent", "y": "independent"}},
"config": {
"font": "Liberation Sans",
"view": {"stroke": "#000000", "strokeWidth": 2},
"axis": {"domain": false, "grid": false, "tickColor": "#000000", "tickWidth": 1.2, "labelColor": "#000000", "labelFont": "Liberation Sans", "labelFontSize": 18, "labelOverlap": false, "labelFlush": false}
}
}
